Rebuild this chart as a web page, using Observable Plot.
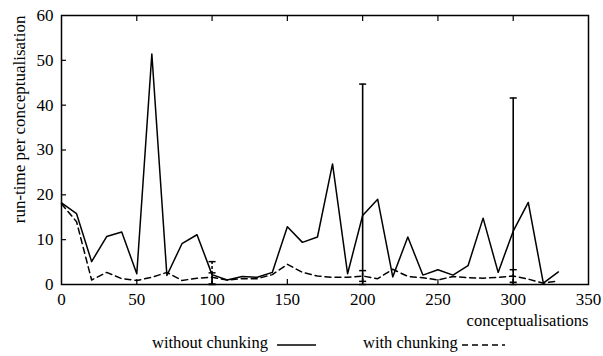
<!DOCTYPE html>
<html><head><meta charset="utf-8">
<script src="https://cdn.jsdelivr.net/npm/d3@7"></script>
<script src="https://cdn.jsdelivr.net/npm/@observablehq/plot@0.6"></script>
<style>
body{margin:0;background:#fff;font-family:"Liberation Serif",serif;color:#000;}
#wrap{position:relative;width:603px;height:356px;overflow:hidden;}
.leg{position:absolute;top:333px;font-size:16.5px;line-height:20px;white-space:nowrap;}
.sample{position:absolute;top:340px;}
</style></head><body><div id="wrap"></div>
<script>
const conceptualisations = [0,10,20,30,40,50,60,70,80,90,100,110,120,130,140,150,160,170,180,190,200,210,220,230,240,250,260,270,280,290,300,310,320,330];
const withoutChunking = [18.2,15.8,5.1,10.7,11.7,2.4,51.4,2.0,9.1,11.1,2.2,1.0,1.8,1.6,2.7,12.9,9.4,10.6,26.9,2.4,15.4,19.0,1.7,10.6,2.1,3.3,2.1,4.2,14.8,2.7,11.9,18.3,0.3,2.8];
const withChunking = [18.0,14.0,1.0,2.7,1.3,0.9,1.6,2.7,0.9,1.4,1.6,1.0,1.3,1.3,2.2,4.5,2.7,1.9,1.6,1.6,1.9,1.3,3.4,1.8,1.5,1.0,1.8,1.5,1.4,1.6,1.9,1.2,0.3,0.8];
const errX = [100,200,300];
const errWithoutLo = [0.1,0.0,0.0];
const errWithoutHi = [2.6,44.7,41.6];
const errWithLo = [0.0,0.7,0.5];
const errWithHi = [5.1,3.1,3.3];
const xTicks = [0,50,100,150,200,250,300,350];
const yTicks = [0,10,20,30,40,50,60];
const seriesNames = ["without chunking","with chunking"];
const xLabel = "conceptualisations";
const yLabel = "run-time per conceptualisation";

const lineWithout = conceptualisations.map((x,i)=>({x, y: withoutChunking[i]}));
const lineWith = conceptualisations.map((x,i)=>({x, y: withChunking[i]}));
const errWithout = errX.map((x,i)=>({x, lo: errWithoutLo[i], hi: errWithoutHi[i]}));
const errWith = errX.map((x,i)=>({x, lo: errWithLo[i], hi: errWithHi[i]}));
const capSymbol = {draw(ctx){ctx.moveTo(-3.5,0); ctx.lineTo(3.5,0);}};
const dash = "6,4";

const chart = Plot.plot({
  width: 603, height: 330,
  marginLeft: 61, marginRight: 15, marginTop: 15, marginBottom: 46,
  style: {fontFamily: "'Liberation Serif', serif", fontSize: "17px", background: "white", color: "black", overflow: "visible"},
  x: {domain: [0,350], ticks: xTicks, label: null},
  y: {domain: [0,60], ticks: yTicks, label: null},
  marks: [
    Plot.axisX({anchor: "bottom", ticks: xTicks, tickSize: 0, tickPadding: 8, label: null}),
    Plot.axisX({anchor: "bottom", ticks: xTicks.filter(d=>d>0 && d<350), tickSize: -5, fill: "none", label: null, strokeWidth: 1.2}),
    Plot.axisX({anchor: "top", ticks: xTicks.filter(d=>d>0 && d<350), tickSize: -5, fill: "none", label: null, strokeWidth: 1.2}),
    Plot.axisY({anchor: "left", ticks: yTicks, tickSize: 0, tickPadding: 8, label: null}),
    Plot.axisY({anchor: "left", ticks: yTicks.filter(d=>d>0 && d<60), tickSize: -5, fill: "none", label: null, strokeWidth: 1.2}),
    Plot.line(lineWithout, {x: "x", y: "y", stroke: "black", strokeWidth: 1.5}),
    Plot.line(lineWith, {x: "x", y: "y", stroke: "black", strokeWidth: 1.5, strokeDasharray: dash}),
    Plot.ruleX(errWithout, {x: "x", y1: "lo", y2: "hi", stroke: "black", strokeWidth: 1.6}),
    Plot.dot(errWithout, {x: "x", y: "lo", symbol: capSymbol, stroke: "black", fill: "none", strokeWidth: 1.5}),
    Plot.dot(errWithout, {x: "x", y: "hi", symbol: capSymbol, stroke: "black", fill: "none", strokeWidth: 1.5}),
    Plot.ruleX(errWith, {x: "x", y1: "lo", y2: "hi", stroke: "black", strokeWidth: 1.5, strokeDasharray: "3,2"}),
    Plot.dot(errWith, {x: "x", y: "lo", symbol: capSymbol, stroke: "black", fill: "none", strokeWidth: 1.5}),
    Plot.dot(errWith, {x: "x", y: "hi", symbol: capSymbol, stroke: "black", fill: "none", strokeWidth: 1.5}),
    Plot.frame({stroke: "black", strokeWidth: 1.5}),
    Plot.text([xLabel], {frameAnchor: "bottom-right", textAnchor: "end", lineAnchor: "middle", dy: 36, fontSize: 16.5}),
    Plot.text([yLabel], {frameAnchor: "top-left", textAnchor: "end", lineAnchor: "middle", rotate: -90, dx: -42, fontSize: 17})
  ]
});
const wrap = document.getElementById("wrap");
wrap.appendChild(chart);

function legendItem(label, textLeft, lineLeft, dashed){
  const t = document.createElement("div");
  t.className = "leg"; t.style.left = textLeft + "px"; t.textContent = label;
  wrap.appendChild(t);
  const ns = "http://www.w3.org/2000/svg";
  const s = document.createElementNS(ns, "svg");
  s.setAttribute("class","sample"); s.setAttribute("width", 44); s.setAttribute("height", 10);
  s.style.left = lineLeft + "px";
  const l = document.createElementNS(ns, "line");
  l.setAttribute("x1", 0); l.setAttribute("x2", dashed ? 43 : 39); l.setAttribute("y1", 5); l.setAttribute("y2", 5);
  l.setAttribute("stroke", "black"); l.setAttribute("stroke-width", 1.5);
  if (dashed) l.setAttribute("stroke-dasharray", dash);
  s.appendChild(l);
  wrap.appendChild(s);
}
legendItem(seriesNames[0], 152, 277, false);
legendItem(seriesNames[1], 363, 462, true);
</script></body></html>
